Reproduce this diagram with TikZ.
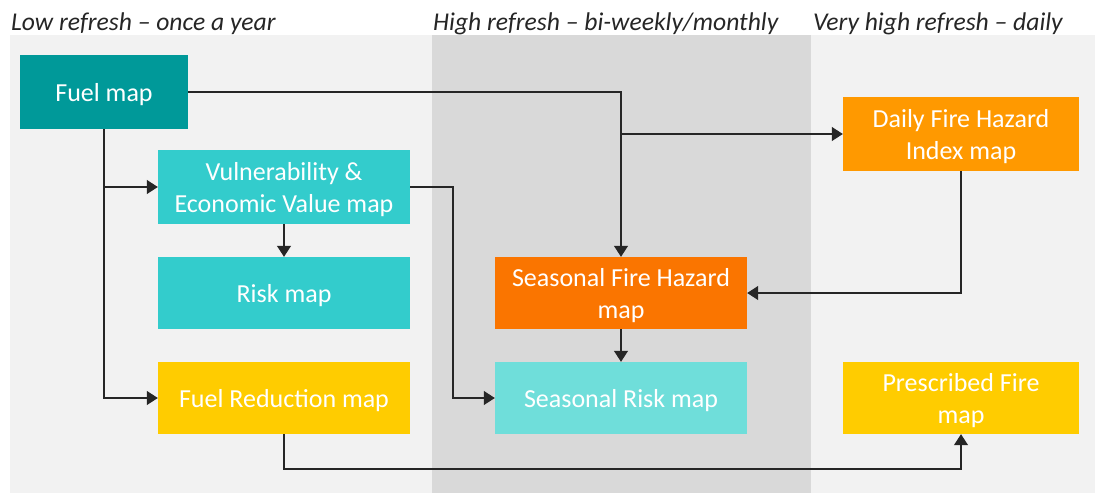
\documentclass[tikz,border=0pt]{standalone}
\usepackage{fontspec}
\setmainfont{Carlito}
\usetikzlibrary{arrows.meta}
\definecolor{bgl}{HTML}{F2F2F2}
\definecolor{bgm}{HTML}{D9D9D9}
\definecolor{cfuel}{HTML}{009999}
\definecolor{cvul}{HTML}{33CCCC}
\definecolor{cyel}{HTML}{FFCC00}
\definecolor{corg}{HTML}{FA7500}
\definecolor{csr}{HTML}{6FDEDA}
\definecolor{cday}{HTML}{FF9900}
\definecolor{htext}{HTML}{262626}
\tikzset{
  mapbox/.style={rectangle, inner sep=0pt, align=center, text=white,
    text depth=0pt, font=\fontsize{26}{32}\selectfont},
  hdr/.style={anchor=base west, inner sep=0pt, text=htext,
    font=\fontsize{25.6}{30}\selectfont\itshape},
  conn/.style={draw=black!85, line width=1.1pt,
    -{Triangle[length=11pt,width=14pt]}},
}
\begin{document}
\begin{tikzpicture}[x=1pt,y=-1pt]
\useasboundingbox (0,0) rectangle (1097,493);
\fill[white] (0,0) rectangle (1097,493);
\fill[bgl] (10,35) rectangle (1095,493);
\fill[bgm] (432,35) rectangle (811,493);
\node[hdr] (h1) at (11,30) {Low refresh -- once a year};
\node[hdr] (h2) at (433,30) {High refresh -- bi-weekly/monthly};
\node[hdr] (h3) at (813,30) {Very high refresh -- daily};
\node[mapbox, fill=cfuel, minimum width=168pt, minimum height=74pt] (fuel) at (104,92) {Fuel map};
\node[mapbox, fill=cvul, minimum width=252pt, minimum height=74pt] (vuln) at (284,187) {Vulnerability \&\\Economic Value map};
\node[mapbox, fill=cvul, minimum width=252pt, minimum height=72pt] (risk) at (284,293) {Risk map};
\node[mapbox, fill=cyel, minimum width=252pt, minimum height=72pt] (fred) at (284,398) {Fuel Reduction map};
\node[mapbox, fill=corg, minimum width=252pt, minimum height=72pt] (sfh) at (621,293) {Seasonal Fire Hazard\\map};
\node[mapbox, fill=csr, minimum width=252pt, minimum height=72pt] (srisk) at (621,398) {Seasonal Risk map};
\node[mapbox, fill=cday, minimum width=236pt, minimum height=74pt] (daily) at (961,134) {Daily Fire Hazard\\Index map};
\node[mapbox, fill=cyel, minimum width=236pt, minimum height=72pt] (presc) at (961,398) {Prescribed Fire\\map};
\coordinate (vx) at (453,187);
\coordinate (by) at (0,469);
\draw[conn] (fuel.east) -| (sfh.north);
\draw[conn] (sfh.north |- daily.west) -- (daily.west);
\draw[conn] (fuel.south) |- (fred.west);
\draw[conn] (fuel.south |- vuln.west) -- (vuln.west);
\draw[conn] (vuln.south) -- (risk.north);
\draw[conn] (vuln.east) -- (vx) |- (srisk.west);
\draw[conn] (daily.south) |- (sfh.east);
\draw[conn] (sfh.south) -- (srisk.north);
\draw[conn] (fred.south) -- (fred.south |- by) -| (presc.south);
\end{tikzpicture}
\end{document}
